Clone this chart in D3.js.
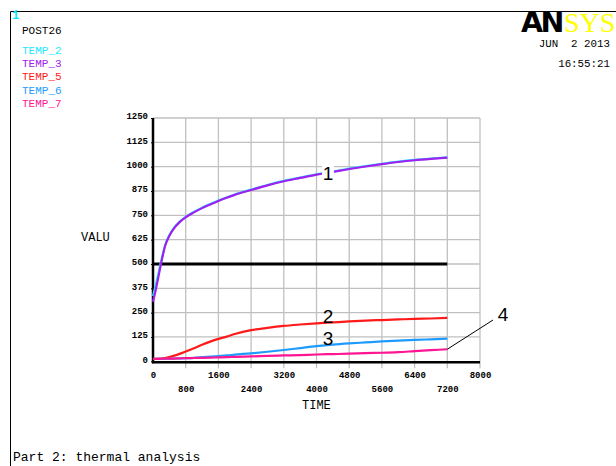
<!DOCTYPE html>
<html>
<head>
<meta charset="utf-8">
<script src="https://cdn.jsdelivr.net/npm/d3@7"></script>
<style>
  body { margin: 0; background: #fff; }
  svg { display: block; }
</style>
</head>
<body>
<div id="chart"></div>
<script>
// POST26 time history data
const times = [0, 60, 120, 200, 300, 400, 500, 650, 800, 1000, 1200, 1400, 1600, 1800, 2000,
  2400, 2800, 3200, 3600, 4000, 4400, 4800, 5200, 5600, 6000, 6400, 6800, 7200];

const temp2 = [335, 385, 440, 515, 600, 648, 682, 717, 742, 767, 789, 808, 826, 842, 857,
  882, 906, 927, 944, 961, 975, 990, 1003, 1015, 1026, 1035, 1042, 1048];
const temp3 = [306, 360, 420, 505, 595, 645, 679, 715, 740, 765, 787, 806, 824, 840, 855,
  880, 904, 925, 942, 959, 973, 988, 1001, 1013, 1024, 1033, 1040, 1046];
const temp5 = [12, 12, 13, 14, 17, 22, 28, 38, 50, 67, 85, 101, 115, 127, 140,
  160, 172, 182, 189, 195, 200, 205, 209, 212, 215, 218, 220, 223];
const temp6 = [12, 12, 12, 12, 13, 13, 14, 15, 16, 18, 21, 24, 27, 30, 34,
  41, 49, 58, 68, 78, 86, 92, 97, 102, 106, 110, 113, 116];
const temp7 = [12, 12, 12, 13, 13, 14, 14, 15, 16, 17, 18, 19, 20, 21, 23,
  25, 28, 30, 32, 35, 37, 39, 42, 44, 47, 52, 57, 62];

// horizontal reference line
const refTimes = [0, 7200];
const refValues = [500, 500];

const seriesNames = ['TEMP_2', 'TEMP_3', 'TEMP_5', 'TEMP_6', 'TEMP_7'];
const seriesColors = ['#22e8ff', '#a020f0', '#ff1a1a', '#1e9bff', '#ff1493'];
const seriesValues = [temp2, temp3, temp5, temp6, temp7];

const xTicks = [0, 800, 1600, 2400, 3200, 4000, 4800, 5600, 6400, 7200, 8000];
const yTicks = [0, 125, 250, 375, 500, 625, 750, 875, 1000, 1125, 1250];

// curve labels: number, series index, time where label sits
const curveLabels = [
  { text: '1', series: 1, t: 4280, dy: 0 },
  { text: '2', series: 2, t: 4280, dy: -7 },
  { text: '3', series: 3, t: 4280, dy: -7 }
];

const width = 616;
const height = 466;
const plot = { left: 153, right: 480, top: 118, bottom: 361.3 };
const mono = "'Liberation Mono', 'DejaVu Sans Mono', monospace";

const svg = d3.select('#chart').append('svg')
  .attr('width', width)
  .attr('height', height);

// outer frame
svg.append('path')
  .attr('d', `M10.5,${height} V11.5 H${width}`)
  .attr('fill', 'none')
  .attr('stroke', '#000')
  .attr('stroke-width', 1);

// header texts
svg.append('text').attr('x', 12).attr('y', 19)
  .attr('font-family', mono).attr('font-size', 12).attr('font-weight', 'bold')
  .attr('fill', '#00e5ff').text('1');
svg.append('text').attr('x', 22).attr('y', 34)
  .attr('font-family', mono).attr('font-size', 11).attr('fill', '#000').text('POST26');

seriesNames.forEach((name, i) => {
  svg.append('text')
    .attr('x', 22)
    .attr('y', 54 + i * 13.2)
    .attr('font-family', mono)
    .attr('font-size', 11)
    .attr('fill', seriesColors[i])
    .text(name);
});

// ANSYS logo
svg.append('text')
  .attr('x', 521).attr('y', 32)
  .attr('font-family', "'DejaVu Sans', sans-serif")
  .attr('font-weight', 'bold')
  .attr('font-size', 28.5)
  .attr('letter-spacing', -2.5)
  .attr('fill', '#000')
  .text('AN');
svg.append('text')
  .attr('x', 564).attr('y', 32)
  .attr('font-family', "'Liberation Serif', serif")
  .attr('font-size', 28)
  .attr('fill', '#ffff00')
  .text('SYS');

svg.append('text').attr('x', 610).attr('y', 47).attr('text-anchor', 'end')
  .attr('font-family', mono).attr('font-size', 10.8).attr('xml:space', 'preserve').text('JUN  2 2013');
svg.append('text').attr('x', 610).attr('y', 67).attr('text-anchor', 'end')
  .attr('font-family', mono).attr('font-size', 10.8).text('16:55:21');

// scales
const x = d3.scaleLinear().domain([0, 8000]).range([plot.left, plot.right]);
const y = d3.scaleLinear().domain([0, 1250]).range([plot.bottom, plot.top]);

// grid
svg.append('g')
  .selectAll('line')
  .data(xTicks.slice(1))
  .join('line')
  .attr('x1', d => x(d)).attr('x2', d => x(d))
  .attr('y1', plot.top).attr('y2', plot.bottom + 7)
  .attr('stroke', '#c0c0c0')
  .attr('stroke-width', 1.3);

svg.append('g')
  .selectAll('line')
  .data(yTicks.slice(1))
  .join('line')
  .attr('x1', plot.left).attr('x2', plot.right)
  .attr('y1', d => y(d)).attr('y2', d => y(d))
  .attr('stroke', '#c0c0c0')
  .attr('stroke-width', 1.3);

// y axis
const yAxis = svg.append('g')
  .attr('transform', `translate(${plot.left},0)`)
  .call(d3.axisLeft(y).tickValues(yTicks).tickFormat(d3.format('d')).tickSize(2).tickPadding(3));
yAxis.select('.domain').remove();
yAxis.selectAll('text')
  .attr('font-family', mono)
  .attr('font-size', 9)
  .attr('font-weight', 'bold')
  .attr('dy', '0.1em')
  .attr('fill', '#000');

// x axis labels in two staggered rows
const xAxis = svg.append('g')
  .attr('transform', `translate(0,${plot.bottom})`)
  .call(d3.axisBottom(x).tickValues(xTicks).tickFormat(d3.format('d')).tickSize(0).tickPadding(0));
xAxis.select('.domain').remove();
xAxis.selectAll('text')
  .attr('font-family', mono)
  .attr('font-size', 9)
  .attr('font-weight', 'bold')
  .attr('fill', '#000')
  .attr('dy', null)
  .attr('y', (d, i) => i % 2 === 0 ? 17 : 31);

// axis frame lines
svg.append('line')
  .attr('x1', plot.left).attr('x2', plot.left)
  .attr('y1', plot.top).attr('y2', plot.bottom + 2)
  .attr('stroke', '#000').attr('stroke-width', 2.5);
svg.append('line')
  .attr('x1', plot.left - 1).attr('x2', plot.right)
  .attr('y1', plot.bottom + 1).attr('y2', plot.bottom + 1)
  .attr('stroke', '#000').attr('stroke-width', 2.5);

// axis titles
svg.append('text').attr('x', 81).attr('y', 241)
  .attr('font-family', mono).attr('font-size', 12).attr('fill', '#000').text('VALU');
svg.append('text').attr('x', 302).attr('y', 409)
  .attr('font-family', mono).attr('font-size', 12).attr('fill', '#000').text('TIME');

// reference line at 500
const line = d3.line().x(d => x(d[0])).y(d => y(d[1]));
svg.append('path')
  .datum(refTimes.map((t, i) => [t, refValues[i]]))
  .attr('d', line)
  .attr('fill', 'none')
  .attr('stroke', '#000')
  .attr('stroke-width', 3);

// series curves
seriesValues.forEach((vals, i) => {
  svg.append('path')
    .datum(times.map((t, j) => [t, vals[j]]))
    .attr('d', line.curve(d3.curveMonotoneX))
    .attr('fill', 'none')
    .attr('stroke', seriesColors[i])
    .attr('stroke-width', 2.2);
});

// curve number labels
const valueAt = (vals, t) => {
  const j = d3.bisectLeft(times, t);
  const t0 = times[j - 1], t1 = times[j];
  return vals[j - 1] + (vals[j] - vals[j - 1]) * (t - t0) / (t1 - t0);
};

curveLabels.forEach(l => {
  const cx = x(l.t);
  const cy = y(valueAt(seriesValues[l.series], l.t)) + l.dy;
  if (l.dy === 0) {
    svg.append('rect')
      .attr('x', cx - 6).attr('y', cy - 10)
      .attr('width', 12).attr('height', 20)
      .attr('fill', '#fff');
  }
  svg.append('text')
    .attr('x', cx).attr('y', cy + 7)
    .attr('text-anchor', 'middle')
    .attr('font-family', "'Liberation Sans', Arial, sans-serif")
    .attr('font-size', 19)
    .attr('fill', '#000')
    .text(l.text);
});

// label 4 with leader line to end of TEMP_7
const lastT = times[times.length - 1];
svg.append('line')
  .attr('x1', 493).attr('y1', 320)
  .attr('x2', x(lastT)).attr('y2', y(temp7[temp7.length - 1]))
  .attr('stroke', '#000')
  .attr('stroke-width', 1);
svg.append('text')
  .attr('x', 503).attr('y', 321)
  .attr('text-anchor', 'middle')
  .attr('font-family', "'Liberation Sans', Arial, sans-serif")
  .attr('font-size', 19)
  .attr('fill', '#000')
  .text('4');

// footer
svg.append('text').attr('x', 13).attr('y', 461)
  .attr('font-family', mono).attr('font-size', 13).attr('fill', '#000')
  .text('Part 2: thermal analysis');
</script>
</body>
</html>
